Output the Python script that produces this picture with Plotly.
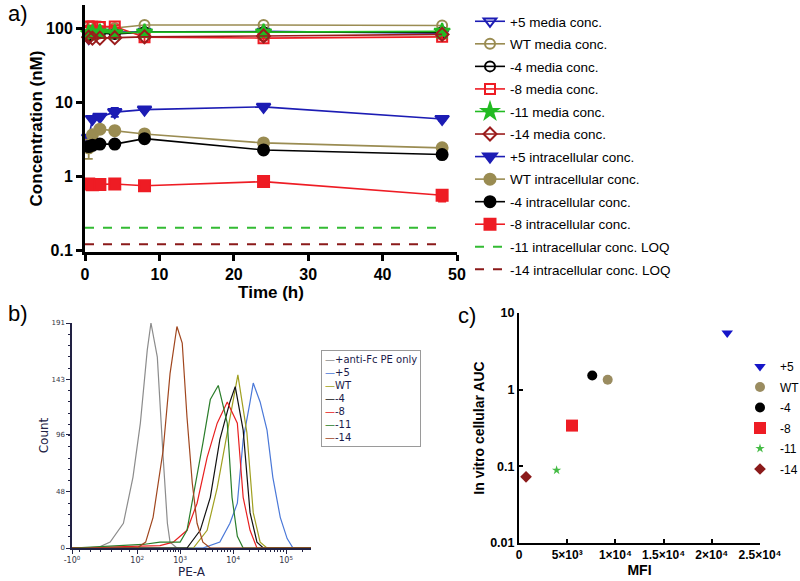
import math
import plotly.graph_objects as go

W, H = 800, 581
def fx(p):
    return p / W
def fy(p):
    return 1 - p / H

ARIAL = "Arial, Liberation Sans, sans-serif"
FLOW = "DejaVu Sans, Verdana, sans-serif"

# ---------------- Panel a data ----------------
time_h = [0.5, 1, 2, 4, 8, 24, 48]

plus5_media = [72, 85, 88, 88, 90, 90, 85]
wt_media = [105, 105, 105, 100, 110, 110, 108]
m4_media = [80, 82, 85, 83, 88, 88, 88]
m8_media = [105, 105, 103, 105, 75, 73, 76]
m8_media_err = [3, 3, 3, 4, 10, 5, 4]
m11_media = [85, 86, 88, 86, 88, 88, 90]
m14_media = [75, 73, 73, 74, 76, 78, 82]

plus5_intra = [3.3, 5.9, 6.3, 7.3, 7.9, 8.6, 5.9]
plus5_intra_err = [0.3, 0.2, 0.3, 1.0, 0.3, 0.4, 0.3]
wt_intra = [2.4, 3.6, 4.3, 4.1, 3.7, 2.8, 2.4]
wt_intra_err = [0.7, 0.2, 0.2, 0.2, 0.2, 0.15, 0.1]
m4_intra = [2.5, 2.6, 2.7, 2.7, 3.2, 2.25, 1.95]
m4_intra_err = [0.1, 0.1, 0.1, 0.1, 0.15, 0.2, 0.1]
m8_intra = [0.78, 0.76, 0.77, 0.78, 0.74, 0.84, 0.55]
m8_intra_err = [0.03, 0.03, 0.03, 0.04, 0.05, 0.12, 0.1]

loq_time = [0, 47.5]
m11_loq = [0.2, 0.2]
m14_loq = [0.12, 0.12]

a_xticks = [0, 10, 20, 30, 40, 50]
a_yticks = [0.1, 1, 10, 100]
a_yticklabels = ["0.1", "1", "10", "100"]

# ---------------- Panel b data (axis units: logicle display position) ----------------
hist_labels = ["+anti-Fc PE only", "+5", "WT", "-4", "-8", "-11", "-14"]
hist_colors = ["#8c8c8c", "#4a78d8", "#a0a020", "#111111", "#e82020", "#2a7d2a", "#a0461e"]

gray_x = [0.96, 1.43, 1.68, 1.93, 2.11, 2.25, 2.38, 2.45, 2.57, 2.62, 2.68, 2.76, 2.81, 2.94, 5.47]
gray_y = [0, 0, 5, 21, 60, 106, 168, 191, 162, 120, 77, 21, 5, 0, 0]
plus5_x = [0.96, 3.43, 3.75, 3.94, 4.08, 4.19, 4.32, 4.38, 4.51, 4.64, 4.75, 4.89, 5.02, 5.13, 5.47]
plus5_y = [0, 0, 5, 21, 38, 92, 124, 140, 124, 100, 60, 26, 8, 0, 0]
wt_x = [0.96, 3.25, 3.51, 3.70, 3.89, 4.00, 4.09, 4.26, 4.38, 4.51, 4.64, 5.47]
wt_y = [0, 0, 15, 51, 98, 124, 147, 98, 30, 5, 0, 0]
m4_x = [0.96, 3.13, 3.38, 3.57, 3.75, 3.94, 4.04, 4.19, 4.32, 4.45, 4.57, 5.47]
m4_y = [0, 0, 15, 43, 92, 124, 137, 100, 30, 5, 0, 0]
m8_x = [0.96, 2.62, 2.87, 3.13, 3.32, 3.51, 3.70, 3.89, 4.08, 4.19, 4.32, 4.45, 5.47]
m8_y = [0, 2, 5, 15, 38, 77, 106, 124, 106, 43, 15, 0, 0]
m11_x = [0.96, 2.30, 2.62, 3.00, 3.13, 3.32, 3.43, 3.57, 3.72, 3.89, 3.98, 4.08, 4.19, 5.47]
m11_y = [0, 3, 5, 5, 15, 60, 89, 126, 138, 106, 43, 10, 0, 0]
m14_x = [0.96, 2.19, 2.35, 2.49, 2.68, 2.81, 2.94, 3.04, 3.13, 3.23, 3.32, 3.43, 3.57, 5.47]
m14_y = [0, 0, 5, 26, 83, 148, 188, 174, 111, 55, 21, 5, 0, 0]

b_xtick_pos = [0.96, 2.19, 3.0, 4.0, 5.0]
b_xtick_text = ["-10<sup>0</sup>", "10<sup>2</sup>", "10<sup>3</sup>", "10<sup>4</sup>", "10<sup>5</sup>"]
b_yticks = [0, 48, 96, 143, 191]

# ---------------- Panel c data ----------------
c_labels = ["+5", "WT", "-4", "-8", "-11", "-14"]
c_mfi = [21600, 9200, 7600, 5500, 3900, 730]
c_auc = [5.5, 1.35, 1.53, 0.34, 0.089, 0.073]
c_symbols = ["triangle-down", "circle", "circle", "square", "star", "diamond"]
c_colors = ["#1515c8", "#9a8c60", "#000000", "#ee1c24", "#44bb44", "#8b1a1a"]
c_sizes = [10, 10, 10, 12, 7, 9]
c_xticks = [0, 5000, 10000, 15000, 20000, 25000]
c_xticktext = ["0", "5×10³", "1×10⁴", "1.5×10⁴", "2×10⁴", "2.5×10⁴"]
c_yticks = [0.01, 0.1, 1, 10]
c_yticktext = ["0.01", "0.1", "1", "10"]

BLUE = "#1c1cb4"
OLIVE = "#9a8c52"
RED = "#ee1c24"
GREEN = "#22bb22"
DRED = "#9b1c1c"

fig = go.Figure()

def err(vals, color):
    return dict(type="data", array=vals, visible=True, color=color, thickness=1.8, width=4)

media = [
    ("+5 media conc.", plus5_media, None, "triangle-down-open", BLUE, 11),
    ("WT media conc.", wt_media, None, "circle-open", OLIVE, 10),
    ("-4 media conc.", m4_media, None, "circle-open", "#000000", 10),
    ("-8 media conc.", m8_media, m8_media_err, "square-open", RED, 10),
    ("-11 media conc.", m11_media, None, "star", GREEN, 12),
    ("-14 media conc.", m14_media, None, "diamond-open", DRED, 10),
]
intra = [
    ("+5 intracellular conc.", plus5_intra, plus5_intra_err, "triangle-down", BLUE, 12),
    ("WT intracellular conc.", wt_intra, wt_intra_err, "circle", OLIVE, 11),
    ("-4 intracellular conc.", m4_intra, m4_intra_err, "circle", "#000000", 11),
    ("-8 intracellular conc.", m8_intra, m8_intra_err, "square", RED, 11),
]
i = 0
for name, ys, e, sym, col, sz in media + intra:
    fig.add_trace(go.Scatter(
        x=time_h, y=ys, name=name, mode="lines+markers",
        line=dict(color=col, width=1.6),
        marker=dict(symbol=sym, color=col, size=sz, line=dict(color=col, width=2)),
        error_y=err(e, col) if e is not None else None,
        xaxis="x", yaxis="y", legend="legend", legendgroup="a%d" % i,
        cliponaxis=False,
    ))
    i += 1
for name, ys, col in [("-11 intracellular conc. LOQ", m11_loq, "#33bb33"),
                      ("-14 intracellular conc. LOQ", m14_loq, "#8b1a1a")]:
    fig.add_trace(go.Scatter(
        x=loq_time, y=ys, name=name, mode="lines",
        line=dict(color=col, width=2, dash="dash"),
        xaxis="x", yaxis="y", legend="legend", legendgroup="a%d" % i,
    ))
    i += 1

# Panel b histograms
hist_series = [(gray_x, gray_y), (plus5_x, plus5_y), (wt_x, wt_y), (m4_x, m4_y),
               (m8_x, m8_y), (m11_x, m11_y), (m14_x, m14_y)]
for (hx, hy), lab, col in zip(hist_series, hist_labels, hist_colors):
    fig.add_trace(go.Scatter(
        x=hx, y=hy, name=lab, mode="lines", line=dict(color=col, width=1.2),
        xaxis="x2", yaxis="y2", showlegend=False,
    ))

# Panel c scatter
for k, (lab, mx, au, sym, col, sz) in enumerate(zip(c_labels, c_mfi, c_auc, c_symbols, c_colors, c_sizes)):
    fig.add_trace(go.Scatter(
        x=[mx], y=[au], name=lab, mode="markers",
        marker=dict(symbol=sym, color=col, size=sz),
        xaxis="x3", yaxis="y3", legend="legend2", legendgroup="c%d" % k,
        cliponaxis=False,
    ))

# legend b built from category list (text-based legend box)
legend_b = "<br>".join("<span style='color:%s'>—</span>%s" % (c, l) for l, c in zip(hist_labels, hist_colors))

# minor ticks for logicle axis
b_minor = []
for k in range(2, 10):
    b_minor.append(2.19 + 0.81 * math.log10(k))
    b_minor.append(3 + math.log10(k))
    b_minor.append(4 + math.log10(k))
b_minor += [5 + math.log10(k) for k in range(2, 4)]
b_minor += [1.1, 1.3, 1.5, 1.7, 1.9, 2.05]

bold = dict(family=ARIAL, size=16, color="black", weight="bold")

fig.update_layout(
    width=W, height=H,
    margin=dict(l=0, r=0, t=0, b=0, autoexpand=False),
    paper_bgcolor="white", plot_bgcolor="rgba(0,0,0,0)",
    font=dict(family=ARIAL, color="black"),
    xaxis=dict(domain=[fx(85), fx(457)], range=[0, 50], tickvals=a_xticks, automargin=True,
               showline=True, linecolor="black", linewidth=3, ticks="outside",
               ticklen=6, tickwidth=2.5, tickcolor="black", showgrid=False, zeroline=False,
               tickfont=bold, anchor="y",
               title=dict(text="Time (h)", font=dict(family=ARIAL, size=17, weight="bold"), standoff=2)),
    yaxis=dict(domain=[fy(252), fy(5)], type="log", range=[-1.027, 2.311], automargin=True,
               tickvals=a_yticks, ticktext=a_yticklabels,
               showline=True, linecolor="black", linewidth=3, ticks="outside",
               ticklen=6, tickwidth=2.5, tickcolor="black", showgrid=False, zeroline=False,
               tickfont=bold, anchor="x",
               title=dict(text="Concentration (nM)", font=dict(family=ARIAL, size=17, weight="bold"), standoff=0)),
    xaxis2=dict(domain=[fx(72), fx(311)], range=[0.96, 5.47], tickvals=b_xtick_pos, ticktext=b_xtick_text,
                automargin=True,
                showline=True, linecolor="#222244", linewidth=1.5, ticks="outside", ticklen=4,
                tickwidth=1, tickcolor="#222244", showgrid=False, zeroline=False,
                minor=dict(tickvals=b_minor, ticklen=2, tickcolor="#222244", ticks="outside"),
                tickfont=dict(family=FLOW, size=8, color="#333344"), anchor="y2",
                title=dict(text="PE-A", font=dict(family=FLOW, size=12, color="#222244"), standoff=0)),
    yaxis2=dict(domain=[fy(548), fy(323)], range=[0, 191], tickvals=b_yticks, automargin=True,
                showline=True, linecolor="#222244", linewidth=1.5, ticks="outside", ticklen=4,
                tickwidth=1, tickcolor="#222244", showgrid=False, zeroline=False,
                minor=dict(dtick=9.55, tick0=0, ticklen=2, tickcolor="#222244", ticks="outside"),
                tickfont=dict(family=FLOW, size=7, color="#333344"), anchor="x2",
                title=dict(text="Count", font=dict(family=FLOW, size=12, color="#222244"), standoff=0)),
    xaxis3=dict(domain=[fx(519), fx(760)], range=[0, 25000], tickvals=c_xticks, ticktext=c_xticktext,
                automargin=True,
                showline=True, linecolor="black", linewidth=2, ticks="inside", ticklen=4,
                tickwidth=2, tickcolor="black", showgrid=False, zeroline=False,
                tickfont=dict(family=ARIAL, size=12, weight="bold"), anchor="y3",
                title=dict(text="MFI", font=dict(family=ARIAL, size=14, weight="bold"), standoff=2)),
    yaxis3=dict(domain=[fy(543), fy(313)], type="log", range=[-2, 1], tickvals=c_yticks, ticktext=c_yticktext,
                automargin=True,
                showline=True, linecolor="black", linewidth=2, ticks="inside", ticklen=4,
                tickwidth=2, tickcolor="black", showgrid=False, zeroline=False,
                tickfont=dict(family=ARIAL, size=12.5, weight="bold"), anchor="x3",
                title=dict(text="In vitro cellular AUC", font=dict(family=ARIAL, size=14, weight="bold"), standoff=2)),
    legend=dict(x=fx(470), y=fy(6), xanchor="left", yanchor="top", bgcolor="rgba(0,0,0,0)",
                font=dict(family=ARIAL, size=13.5, color="black"), tracegroupgap=2,
                itemwidth=30),
    legend2=dict(x=fx(740), y=fy(352), xanchor="left", yanchor="top", bgcolor="rgba(0,0,0,0)",
                 font=dict(family=ARIAL, size=12, color="black"), tracegroupgap=1.5,
                 itemwidth=30),
    annotations=[
        dict(text="a)", x=fx(6), y=fy(14), xref="paper", yref="paper", xanchor="left", yanchor="middle",
             showarrow=False, font=dict(family=ARIAL, size=22)),
        dict(text="b)", x=fx(6), y=fy(313), xref="paper", yref="paper", xanchor="left", yanchor="middle",
             showarrow=False, font=dict(family=ARIAL, size=22)),
        dict(text="c)", x=fx(456), y=fy(315), xref="paper", yref="paper", xanchor="left", yanchor="middle",
             showarrow=False, font=dict(family=ARIAL, size=22)),
        dict(text=legend_b, x=fx(321), y=fy(350), xref="paper", yref="paper", xanchor="left", yanchor="top",
             align="left", showarrow=False, bordercolor="#9a9a9a", borderwidth=1, borderpad=3,
             bgcolor="white", font=dict(family=FLOW, size=10, color="#1a1a4a")),
    ],
)

fig.write_html("out.html", config={"displayModeBar": False},
               post_script="document.body.style.margin='0px';document.body.style.overflow='hidden';")
